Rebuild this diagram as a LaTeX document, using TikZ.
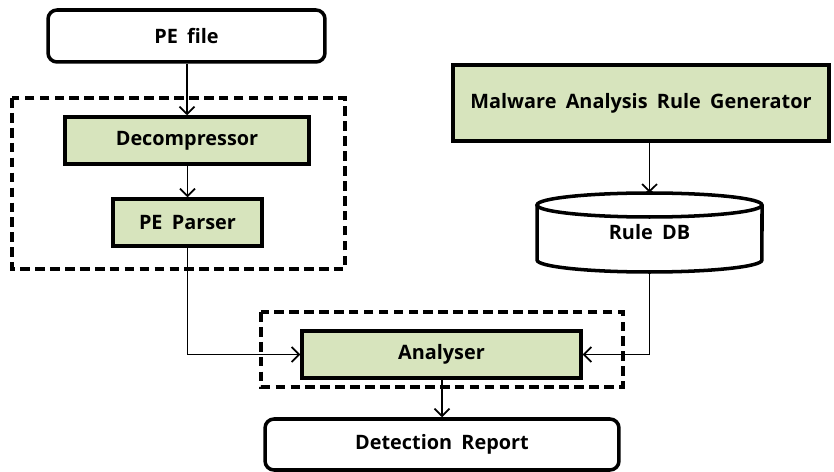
\documentclass[tikz,border=0pt]{standalone}
\usepackage{fontspec}
\setmainfont{Open Sans}[WordSpace=1.8]
\usetikzlibrary{arrows.meta}
\definecolor{boxgreen}{HTML}{D7E4BD}
\tikzset{
  label/.style={font=\fontsize{11.3}{13}\selectfont\bfseries},
  box/.style={label, draw=black, line width=2pt, fill=boxgreen, inner sep=0pt},
  roundbox/.style={label, draw=black, line width=2pt, fill=white, rounded corners=0.18cm,
    inner sep=0pt},
  group/.style={draw=black, line width=2.3pt, dash pattern=on 5.5pt off 3pt},
  flow/.style={draw=black, line width=1pt,
    -{Straight Barb[length=4.2pt, width=8.5pt, line width=1pt]}},
}
\begin{document}
\begin{tikzpicture}[x=0.02cm, y=-0.02cm]
  \useasboundingbox (0,0) rectangle (834,472);

  % dashed group frames
  \draw[group] (12,98) rectangle (345,269);
  \draw[group] (261,312) rectangle (623,387);

  % input side
  \node[roundbox, minimum width=5.54cm, minimum height=1.04cm] (pe) at (186.5,36) {PE file};
  \node[box, minimum width=4.88cm, minimum height=0.94cm] (dec) at (187,140.5) {Decompressor};
  \node[box, minimum width=2.98cm, minimum height=0.94cm] (par) at (187.5,222.5) {PE Parser};

  % rule side
  \node[box, minimum width=7.52cm, minimum height=1.52cm] (gen) at (641,103) {Malware Analysis Rule Generator};
  % Rule DB cylinder
  \fill[white] (537,205) -- (537,260) arc[start angle=180, end angle=360, x radius=2.25cm, y radius=0.24cm] -- (762,205) -- cycle;
  \draw[line width=2pt, fill=white] (649.5,205) ellipse[x radius=2.25cm, y radius=0.24cm];
  \draw[line width=2pt] (537,205) -- (537,260) arc[start angle=180, end angle=360, x radius=2.25cm, y radius=0.24cm] -- (762,205);
  \node[label, inner sep=0pt, minimum width=4.5cm, minimum height=1.58cm] (db) at (649.5,232.5) {Rule DB};

  % analysis and output
  \node[box, minimum width=5.58cm, minimum height=0.94cm] (ana) at (441.5,354.5) {Analyser};
  \node[roundbox, minimum width=7.08cm, minimum height=1.02cm] (rep) at (442,444.5) {Detection Report};

  % connectors
  \draw[flow] (pe.south -| dec.north) -- (dec.north);
  \draw[flow] (dec.south -| par.north) -- (par.north);
  \draw[flow] (gen.south -| db.north) -- (db.north);
  \draw[flow] (par.south) |- (ana.west);
  \draw[flow] (db.south) |- (ana.east);
  \draw[flow] (ana.south -| rep.north) -- (rep.north);
\end{tikzpicture}
\end{document}
